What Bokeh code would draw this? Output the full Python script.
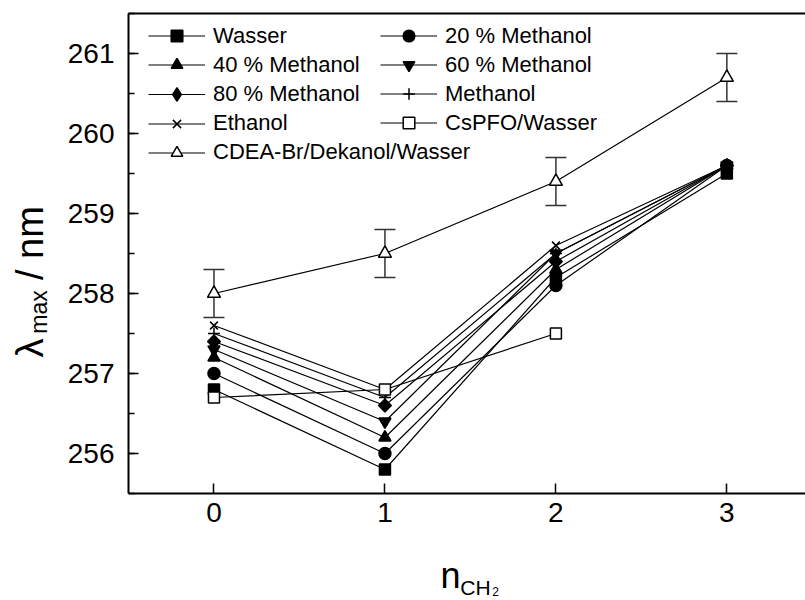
import math
from bokeh.plotting import figure
from bokeh.layouts import row, column
from bokeh.models import (Range1d, LinearAxis, FixedTicker, SingleIntervalTicker,
                          Legend, LegendItem, Label, Whisker, ColumnDataSource, TeeHead)
from bokeh.embed import file_html
from bokeh.resources import INLINE

# ---------------- data ----------------
x_vals = [0, 1, 2, 3]
wasser = [256.8, 255.8, 258.2, 259.5]
meoh20 = [257.0, 256.0, 258.1, 259.6]
meoh40 = [257.2, 256.2, 258.3, 259.6]
meoh60 = [257.3, 256.4, 258.5, 259.6]
meoh80 = [257.4, 256.6, 258.4, 259.6]
methanol = [257.5, 256.7, 258.5, 259.6]
ethanol = [257.6, 256.8, 258.6, 259.6]
cspfo_x = [0, 1, 2]
cspfo = [256.7, 256.8, 257.5]
cdea = [258.0, 258.5, 259.4, 260.7]
cdea_err = [0.3, 0.3, 0.3, 0.3]
x_ticks = [0, 1, 2, 3]

FONT = "Liberation Sans"
YW = 60      # width of the y-title strip
MAINH = 540  # height of the main figure
XH = 60      # height of the x-title strip
TOPB = 13
BOTB = MAINH - 493

yr = Range1d(255.5, 261.5)
p = figure(width=805 - YW, height=MAINH, output_backend="svg", toolbar_location=None,
           x_range=Range1d(-0.5, 3.46), y_range=yr,
           min_border_left=128 - YW, min_border_right=0, min_border_top=TOPB,
           min_border_bottom=BOTB)
p.grid.visible = False
p.outline_line_color = None
p.background_fill_color = "white"
p.border_fill_color = "white"

xa = p.xaxis[0]
ya = p.yaxis[0]
xa.ticker = FixedTicker(ticks=x_ticks)
ya.ticker = SingleIntervalTicker(interval=1, num_minor_ticks=2)
for ax in (xa, ya):
    ax.axis_line_width = 2
    ax.axis_line_color = "black"
    ax.major_tick_line_color = "black"
    ax.major_tick_line_width = 1.5
    ax.major_tick_in = 10
    ax.major_tick_out = 0
    ax.minor_tick_line_color = "black"
    ax.minor_tick_line_width = 1.5
    ax.minor_tick_in = 6
    ax.minor_tick_out = 0
    ax.major_label_text_font = FONT
    ax.major_label_text_font_size = "28px"
    ax.major_label_text_color = "black"
xa.major_label_standoff = 9
ya.major_label_standoff = 14

top = LinearAxis(ticker=FixedTicker(ticks=[]), axis_line_width=2, axis_line_color="black",
                 major_tick_in=0, major_tick_out=0, minor_tick_in=0, minor_tick_out=0,
                 major_label_text_font_size="0px", major_label_standoff=0)
p.add_layout(top, "above")

# error bars
src_err = ColumnDataSource(dict(x=x_vals,
                                upper=[v + e for v, e in zip(cdea, cdea_err)],
                                lower=[v - e for v, e in zip(cdea, cdea_err)]))
wh = Whisker(base="x", upper="upper", lower="lower", source=src_err,
             line_color="#333333", line_width=1.5,
             upper_head=TeeHead(size=21, line_color="#333333", line_width=1.5),
             lower_head=TeeHead(size=21, line_color="#333333", line_width=1.5))
p.add_layout(wh)

series = [
    ("Wasser", x_vals, wasser, "square", "black", 11, 0.0),
    ("20 % Methanol", x_vals, meoh20, "circle", "black", 12, 0.0),
    ("40 % Methanol", x_vals, meoh40, "triangle", "black", 12, 0.0),
    ("60 % Methanol", x_vals, meoh60, "inverted_triangle", "black", 12, 0.0),
    ("80 % Methanol", x_vals, meoh80, "square", "black", 9, math.pi / 4),
    ("Methanol", x_vals, methanol, "cross", "black", 12, 0.0),
    ("Ethanol", x_vals, ethanol, "x", "black", 11, 0.0),
    ("CsPFO/Wasser", cspfo_x, cspfo, "square", "white", 11, 0.0),
    ("CDEA-Br/Dekanol/Wasser", x_vals, cdea, "triangle", "white", 13, 0.0),
]

items = {}
for name, xs, ys, marker, fill, size, ang in series:
    l = p.line(xs, ys, line_color="black", line_width=1.2)
    extra = []
    if ang:
        # diamond used for the legend entry; hidden beneath the rotated squares
        extra = [p.scatter(xs, ys, marker="diamond", size=12, fill_color=fill,
                           line_color="black", line_width=1.2)]
    s = p.scatter(xs, ys, marker=marker, size=size, angle=ang, fill_color=fill,
                  line_color="black", line_width=1.5)
    items[name] = LegendItem(label=name, renderers=[l] + (extra if extra else [s]))

legend_kw = dict(orientation="vertical", glyph_width=57, spacing=0, padding=0,
                 margin=0, label_standoff=8, border_line_color=None,
                 background_fill_alpha=0, label_text_font=FONT,
                 label_text_font_size="22px", label_text_color="black")
FB = 493


def add_legend(names, x_canvas, top_canvas, row_h):
    h = row_h * len(names)
    leg = Legend(items=[items[n] for n in names], location=(x_canvas - 128, FB - (top_canvas + h)),
                 glyph_height=row_h, label_height=row_h, **legend_kw)
    p.add_layout(leg)


add_legend(["Wasser", "40 % Methanol"], 148, 21, 29)
add_legend(["80 % Methanol"], 148, 94 - 17, 34)
add_legend(["Ethanol", "CDEA-Br/Dekanol/Wasser"], 148, 123 - 14.5, 29)
add_legend(["20 % Methanol", "60 % Methanol", "Methanol", "CsPFO/Wasser"], 380, 21, 29)


def strip(w, h, y_range, top_b=0, bot_b=0):
    f = figure(width=w, height=h, output_backend="svg", toolbar_location=None,
               x_range=Range1d(0, w), y_range=y_range,
               x_axis_location=None, y_axis_location=None, min_border=0,
               min_border_top=top_b, min_border_bottom=bot_b)
    f.grid.visible = False
    f.outline_line_color = None
    f.background_fill_color = "white"
    f.border_fill_color = "white"
    return f


def lab(fig, text, x, y, size, angle=0.0):
    fig.add_layout(Label(x=x, y=y, text=text, angle=angle, text_font=FONT,
                         text_font_size=size, text_color="black",
                         text_baseline="middle", text_align="center"))


# y-axis title strip: shares the value axis, so y is given in nm
yfig = strip(YW, MAINH, yr, TOPB, BOTB)
lab(yfig, "λ", 29, 257.32, "38px", math.pi / 2)
lab(yfig, "max", 38, 257.77, "23px", math.pi / 2)
lab(yfig, "/ nm", 29, 258.63, "38px", math.pi / 2)

# x-axis title strip (pixel coordinates, origin at its bottom-left)
xfig = strip(805, XH, Range1d(0, XH))
lab(xfig, "n", 450, 600 - 575, "36px")
lab(xfig, "CH", 475, 600 - 587, "21px")
lab(xfig, "2", 495, 600 - 591, "12px")

layout = column(row(yfig, p, spacing=0), xfig, spacing=0)

open("out.html", "w").write(file_html(layout, INLINE))
